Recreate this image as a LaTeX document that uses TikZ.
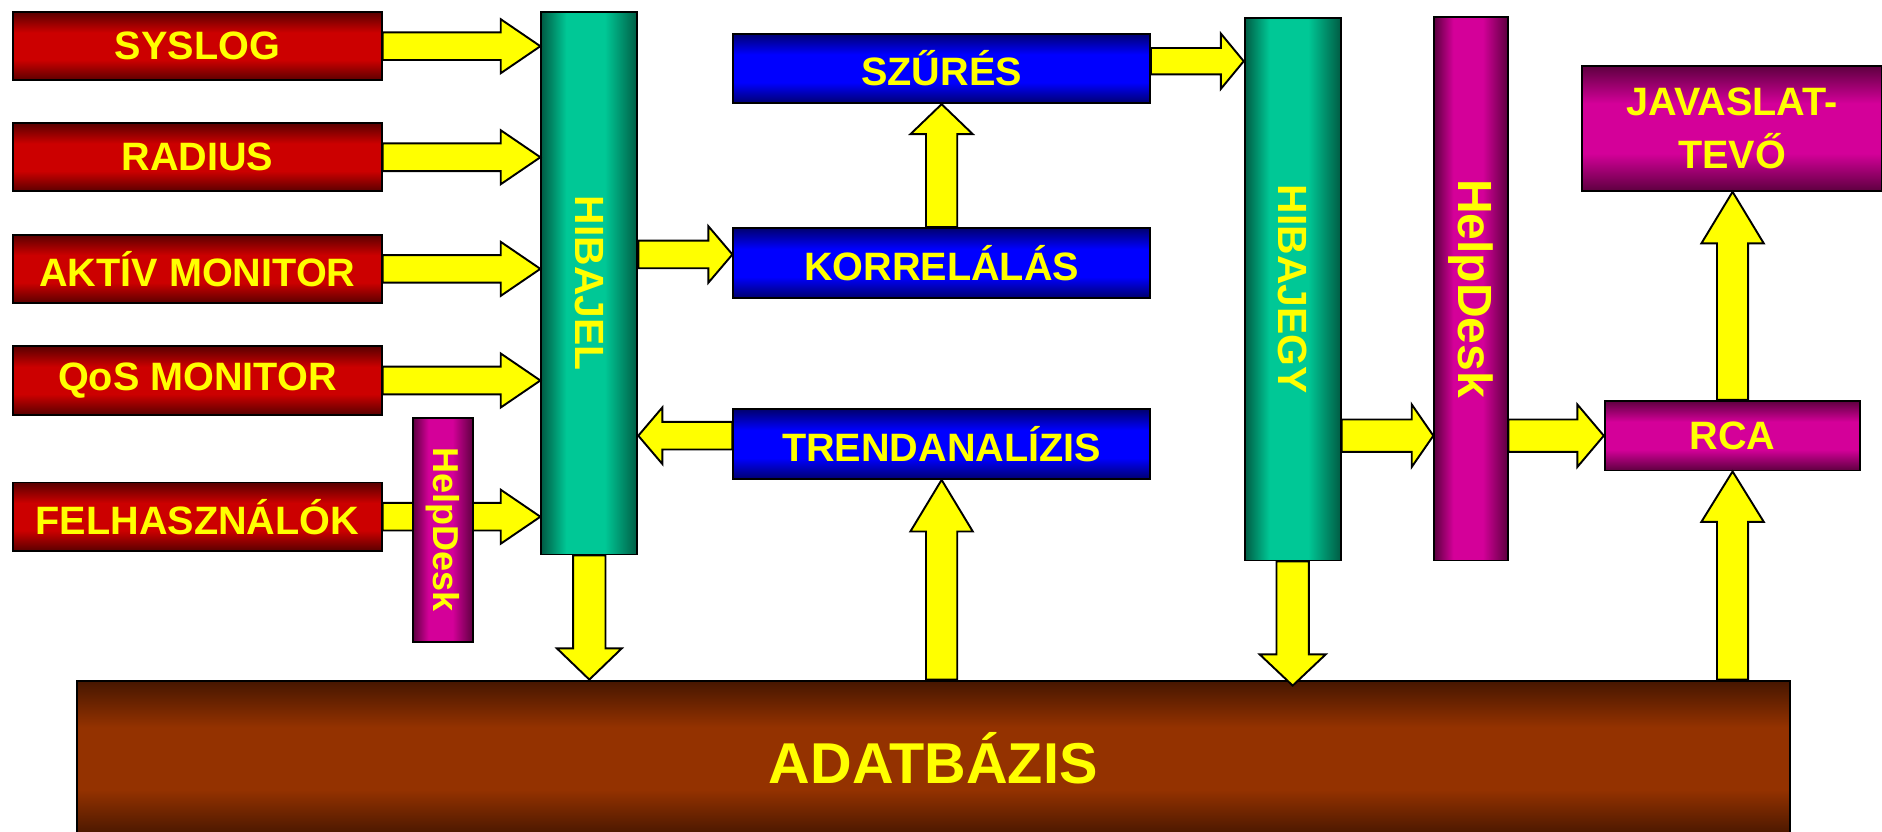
\documentclass[tikz,border=0pt]{standalone}
\usepackage{fontspec}
\setmainfont{Liberation Sans}
\usepackage{graphicx}
\usetikzlibrary{calc,backgrounds}
\definecolor{rdk}{HTML}{5A0000}\definecolor{rbr}{HTML}{CC0000}
\definecolor{gdk}{HTML}{005C44}\definecolor{gbr}{HTML}{00C896}
\definecolor{bdk}{HTML}{000070}\definecolor{bbr}{HTML}{0000FF}
\definecolor{mdk}{HTML}{5E0040}\definecolor{mbr}{HTML}{D40099}
\definecolor{odk}{HTML}{461600}\definecolor{obr}{HTML}{943200}
\definecolor{yel}{HTML}{FFFF00}
\pgfdeclareverticalshading{redV}{100bp}{color(0bp)=(rdk); color(25bp)=(rdk); color(40bp)=(rbr); color(60bp)=(rbr); color(75bp)=(rdk); color(100bp)=(rdk)}
\pgfdeclareverticalshading{blueV}{100bp}{color(0bp)=(bdk); color(25bp)=(bdk); color(40bp)=(bbr); color(60bp)=(bbr); color(75bp)=(bdk); color(100bp)=(bdk)}
\pgfdeclareverticalshading{magV}{100bp}{color(0bp)=(mdk); color(25bp)=(mdk); color(40bp)=(mbr); color(60bp)=(mbr); color(75bp)=(mdk); color(100bp)=(mdk)}
\pgfdeclareverticalshading{brownV}{100bp}{color(0bp)=(odk); color(25bp)=(odk); color(40bp)=(obr); color(60bp)=(obr); color(75bp)=(odk); color(100bp)=(odk)}
\pgfdeclarehorizontalshading{greenH}{100bp}{color(0bp)=(gdk); color(25bp)=(gdk); color(38bp)=(gbr); color(58bp)=(gbr); color(75bp)=(gdk); color(100bp)=(gdk)}
\pgfdeclarehorizontalshading{magH}{100bp}{color(0bp)=(mdk); color(25bp)=(mdk); color(38bp)=(mbr); color(58bp)=(mbr); color(75bp)=(mdk); color(100bp)=(mdk)}
\tikzset{
  lbl/.style={text=yel, font=\fontsize{16.5pt}{22pt}\selectfont\bfseries, align=center},
  box/.style={draw=black, line width=0.8pt, inner sep=0pt, lbl},
  redbox/.style={box, shade, shading=redV, minimum width=153.5pt, minimum height=28.5pt},
  bluebox/.style={box, shade, shading=blueV, minimum width=173.5pt, minimum height=29pt},
  magbox/.style={box, shade, shading=magV},
  greencol/.style={box, shade, shading=greenH, minimum width=40pt, minimum height=226pt, font=\fontsize{17pt}{20pt}\selectfont\bfseries},
  magcol/.style={box, shade, shading=magH},
  dbbox/.style={box, shade, shading=brownV, minimum width=713.5pt, minimum height=65pt, font=\fontsize{24pt}{28pt}\selectfont\bfseries},
  yarr/.style={draw=black, fill=yel, line width=0.8pt, line join=miter}
}
% #1 start, #2 tip, #3 half shaft width, #4 half head width, #5 head length
\newcommand{\yarrow}[5]{%
  \coordinate (ya) at (#1);
  \coordinate (yb) at (#2);
  \coordinate (yc) at ($(yb)!#5!(ya)$);
  \draw[yarr] ($(ya)!#3!90:(yb)$) -- ($(yc)!#3!-90:(ya)$) -- ($(yc)!#4!-90:(ya)$) -- (yb)
    -- ($(yc)!#4!90:(ya)$) -- ($(yc)!#3!90:(ya)$) -- ($(ya)!#3!-90:(yb)$) -- cycle;
}
\begin{document}
\begin{tikzpicture}[x=0.5pt, y=-0.5pt]
\useasboundingbox (0,0) rectangle (1568,693);
% sources
\node[redbox] (syslog) at (164.5,38.5) {SYSLOG};
\node[redbox] (radius) at (164.5,131) {RADIUS};
\node[redbox] (aktiv) at (164.5,224) {AKTÍV MONITOR};
\node[redbox] (qos) at (164.5,317) {QoS MONITOR};
\node[redbox] (felh) at (164.5,430.5) {FELHASZNÁLÓK};
% columns
\node[greencol] (hibajel) at (491,236) {\rotatebox{-90}{HIBAJEL}};
\node[greencol] (hibajegy) at (1077,241) {\rotatebox{-90}{HIBAJEGY}};
\node[magcol, minimum width=25pt, minimum height=93.5pt, font=\fontsize{15pt}{18pt}\selectfont\bfseries] (hd1) at (369,441.5) {\rotatebox{-90}{HelpDesk}};
\node[magcol, minimum width=30.5pt, minimum height=226.5pt, font=\fontsize{20pt}{24pt}\selectfont\bfseries] (hd2) at (1225.5,240.5) {\rotatebox{-90}{HelpDesk}};
% processing
\node[bluebox] (szures) at (784.5,57) {SZŰRÉS};
\node[bluebox] (korr) at (784.5,219) {KORRELÁLÁS};
\node[bluebox] (trend) at (784.5,370) {TRENDANALÍZIS};
\node[magbox, minimum width=106.5pt, minimum height=29pt] (rca) at (1443.5,363) {RCA};
\node[magbox, minimum width=125pt, minimum height=52pt] (jav) at (1443,107) {JAVASLAT-\\TEVŐ};
\node[dbbox] (adat) at (777.5,632) {ADATBÁZIS};
% arrows
\begin{pgfonlayer}{background}
\yarrow{felh.east}{felh.east -| hibajel.west}{5.75pt}{11.25pt}{16.5pt}
\end{pgfonlayer}
\yarrow{syslog.east}{syslog.east -| hibajel.west}{5.75pt}{11.25pt}{16.5pt}
\yarrow{radius.east}{radius.east -| hibajel.west}{5.75pt}{11.25pt}{16.5pt}
\yarrow{aktiv.east}{aktiv.east -| hibajel.west}{5.75pt}{11.25pt}{16.5pt}
\yarrow{qos.east}{qos.east -| hibajel.west}{5.75pt}{11.25pt}{16.5pt}
\coordinate (kin) at ($(korr.west)+(0,-7)$);
\yarrow{kin -| hibajel.east}{kin}{5.75pt}{11.75pt}{10pt}
\yarrow{korr.north}{szures.south}{6.5pt}{13pt}{12.5pt}
\coordinate (tout) at ($(trend.west)+(0,-7)$);
\yarrow{tout}{tout -| hibajel.east}{5.75pt}{11.75pt}{10pt}
\yarrow{adat.north -| trend.south}{trend.south}{6.5pt}{13pt}{21.5pt}
\yarrow{hibajel.south}{hibajel.south |- adat.north}{6.75pt}{13.5pt}{13pt}
\coordinate (sout) at ($(szures.east)+(0,-6)$);
\yarrow{sout}{sout -| hibajegy.west}{5.5pt}{11.5pt}{9.5pt}
\yarrow{hibajegy.south}{$(hibajegy.south |- adat.north)+(0,5)$}{6.75pt}{13.75pt}{13pt}
\yarrow{hibajegy.east |- rca.west}{hd2.west |- rca.west}{6.75pt}{13pt}{9pt}
\yarrow{hd2.east |- rca.west}{rca.west}{6.75pt}{13pt}{11pt}
\yarrow{rca.north}{rca.north |- jav.south}{6.5pt}{13pt}{21.5pt}
\yarrow{adat.north -| rca.south}{rca.south}{6.5pt}{13pt}{21pt}
\end{tikzpicture}
\end{document}
